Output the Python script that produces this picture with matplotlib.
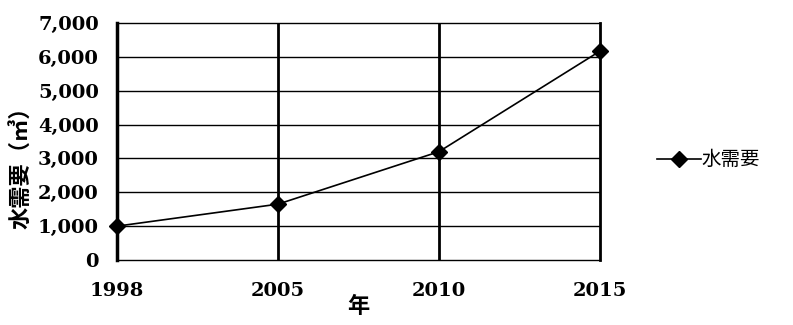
import matplotlib
matplotlib.use("Agg")
import matplotlib.pyplot as plt

years = ["1998", "2005", "2010", "2015"]
demand = [1000, 1650, 3200, 6170]
yticks = [0, 1000, 2000, 3000, 4000, 5000, 6000, 7000]
series_name = "水需要"
ylabel = "水需要（㎥）"
xlabel = "年"

cjk = ["Noto Sans CJK JP", "DejaVu Sans"]
num_font = dict(family="DejaVu Serif", weight="bold", size=14)

fig = plt.figure(figsize=(7.93, 3.25), dpi=100)
ax = fig.add_axes([0.1475, 0.2, 0.609, 0.729])

x = list(range(len(years)))
ax.plot(x, demand, color="black", lw=1.2, marker="D", ms=8.5,
        markerfacecolor="black", markeredgecolor="black", clip_on=False,
        zorder=5, label=series_name)

ax.set_xlim(0, len(years) - 1)
ax.set_ylim(0, 7000)
ax.set_yticks(yticks)
ax.set_yticklabels([f"{v:,}" for v in yticks], fontdict=num_font)
ax.set_xticks(x)
ax.set_xticklabels(years, fontdict=num_font)
ax.tick_params(axis="y", length=0, pad=13)
ax.tick_params(axis="x", length=0, pad=16)

for v in yticks[1:-1]:
    ax.axhline(v, color="black", lw=1.0, zorder=1)
for xi in x[1:-1]:
    ax.axvline(xi, color="black", lw=2.0, zorder=1)

ax.spines["left"].set_linewidth(2.5)
ax.spines["right"].set_linewidth(2.0)
ax.spines["top"].set_linewidth(1.0)
ax.spines["bottom"].set_linewidth(1.0)

ax.set_xlabel(xlabel, family=cjk, fontsize=16, fontweight="bold", labelpad=-4)
fig.text(0.027, 0.5, ylabel, rotation=90, family=cjk, fontsize=16,
         fontweight="bold", ha="center", va="center")

fig.legend(loc="center left", bbox_to_anchor=(0.806, 0.508), frameon=False,
           handlelength=2.3, handletextpad=0.0,
           prop=dict(family=cjk, size=14))

fig.savefig("out.png", dpi=100)
